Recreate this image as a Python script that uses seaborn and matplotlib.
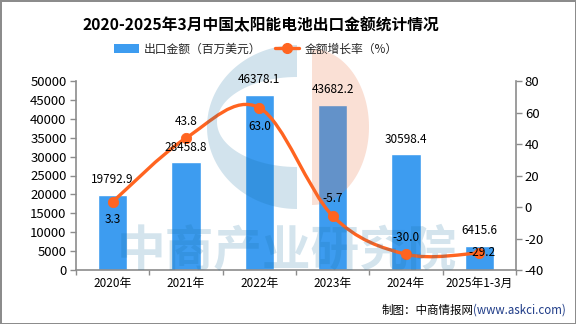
import numpy as np
import pandas as pd
import matplotlib
matplotlib.use("Agg")
import matplotlib.pyplot as plt
import seaborn as sns
from matplotlib.path import Path
from matplotlib.patches import PathPatch, Patch, Rectangle
from matplotlib.lines import Line2D
from matplotlib.transforms import Affine2D
from matplotlib.ticker import FixedLocator

# ---- data ----
years = ["2020年", "2021年", "2022年", "2023年", "2024年", "2025年1-3月"]
export_value = [19792.9, 28458.8, 46378.1, 43682.2, 30598.4, 6415.6]   # 百万美元
growth_rate = [3.3, 43.8, 63.0, -5.7, -30.0, -29.2]                    # %
left_ticks = [0, 5000, 10000, 15000, 20000, 25000, 30000, 35000, 40000, 45000, 50000]
right_ticks = [-40, -20, 0, 20, 40, 60, 80]

title = "2020-2025年3月中国太阳能电池出口金额统计情况"
bar_name = "出口金额（百万美元）"
line_name = "金额增长率（%）"

# ---- style ----
BAR = "#3d9cf0"
LINE = "#ff6420"
AXIS = "#8c8c8c"
WM_BLUE = (18 / 255, 108 / 255, 160 / 255)
WM_SALMON = (236 / 255, 114 / 255, 64 / 255)

sns.set_theme(style="white")
plt.rcParams["font.family"] = ["Noto Sans CJK SC", "DejaVu Sans"]
plt.rcParams["axes.unicode_minus"] = False

W, H = 576, 324
fig = plt.figure(figsize=(W / 100, H / 100), dpi=100, facecolor="white",
                 edgecolor="#8c8c8c", linewidth=2)
# pixel coordinates measured from the top-left corner
px = Affine2D().scale(1 / W, -1 / H).translate(0, 1) + fig.transFigure

ax = fig.add_axes([76 / W, 1 - 270 / H, 440 / W, 189 / H])
df = pd.DataFrame({"year": years, "value": export_value, "rate": growth_rate})
sns.barplot(data=df, x="year", y="value", color=BAR, saturation=1, width=0.4,
            ax=ax, zorder=2)
ax.set_xlim(-0.5, len(years) - 0.5)
ax.set_ylim(left_ticks[0], left_ticks[-1])
ax.set_yticks(left_ticks)
ax.set_xlabel("")
ax.set_ylabel("")

ax2 = ax.twinx()
ax2.set_ylim(right_ticks[0], right_ticks[-1])
ax2.set_yticks(right_ticks)

# smoothed growth-rate line (Catmull-Rom segments as cubic Bezier curves)
xs = np.arange(len(years), dtype=float)
pts = np.column_stack([xs, np.asarray(growth_rate, dtype=float)])
ext = np.vstack([pts[0], pts, pts[-1]])
verts = [pts[0]]
codes = [Path.MOVETO]
for i in range(len(pts) - 1):
    p0, p1, p2, p3 = ext[i], ext[i + 1], ext[i + 2], ext[i + 3]
    verts += [p1 + (p2 - p0) / 6, p2 - (p3 - p1) / 6, p2]
    codes += [Path.CURVE4] * 3
ax2.add_patch(PathPatch(Path(verts, codes), fill=False, edgecolor=LINE,
                        lw=2.4, capstyle="round", zorder=3))
sns.scatterplot(x=xs, y=growth_rate, ax=ax2, color=LINE, edgecolor=LINE,
                s=55, zorder=4, legend=False)

# ---- watermark (logo + name) ----
clip = Rectangle((0, 44), W, 250, transform=px, facecolor="none", edgecolor="none")
fig.add_artist(clip)
clip.set_visible(False)

t = np.linspace(-np.pi / 2, np.pi / 2, 80)
outer = np.column_stack([297 - 90 * np.cos(t), 127 + 82 * np.sin(t)])
hole = np.column_stack([297 - 80 * np.cos(t[::-1]), 122 + 45 * np.sin(t[::-1])])
g_shape = np.vstack([outer, hole, outer[:1]])
g_patch = PathPatch(Path(g_shape), transform=px, facecolor=WM_BLUE, edgecolor="none",
                    alpha=0.19, zorder=5, clip_on=True)
ax2.add_patch(g_patch)
g_patch.set_clip_path(clip)

disc = np.column_stack([312 + 57 * np.cos(t), 127 + 78 * np.sin(t)])
s_patch = PathPatch(Path(np.vstack([disc, disc[:1]])), transform=px,
                    facecolor=WM_SALMON, edgecolor="none", alpha=0.22, zorder=5)
ax2.add_patch(s_patch)
s_patch.set_clip_path(clip)

ax2.text(287, 252, "中商产业研究院", transform=px, fontsize=35, fontweight="bold",
         color=WM_BLUE, alpha=0.18, ha="center", va="center", zorder=5, clip_on=False)

# ---- value labels ----
for i, v in enumerate(export_value):
    ax2.annotate(f"{v:.1f}", (i, v), xycoords=ax.transData, xytext=(0, 11),
                 textcoords="offset points", ha="center", va="center",
                 fontsize=8.5, color="black", zorder=7)

rate_offsets = [-12.5, 12, -13.5, 12.5, 12, 0]
for i, v in enumerate(growth_rate):
    ax2.annotate(f"{v:.1f}", (i, v), xytext=(2 if rate_offsets[i] == 0 else 0, rate_offsets[i]),
                 textcoords="offset points", ha="center", va="center",
                 fontsize=8.5, color="black", zorder=7)

# ---- axes styling ----
for a in (ax, ax2):
    for s in a.spines.values():
        s.set_visible(False)
ax.spines["left"].set_visible(True)
ax.spines["bottom"].set_visible(True)
ax2.spines["right"].set_visible(True)
for s in (ax.spines["left"], ax.spines["bottom"], ax2.spines["right"]):
    s.set_color(AXIS)
    s.set_linewidth(1.2)

ax.tick_params(axis="y", direction="out", length=4.3, width=1, color=AXIS,
               labelsize=9.5, pad=2.5, labelcolor="black", left=True)
ax2.tick_params(axis="y", direction="out", length=4.3, width=1, color=AXIS,
                labelsize=9.5, pad=2, labelcolor="black", right=True)
ax.tick_params(axis="x", which="major", length=0, labelsize=8.5, pad=5,
               labelcolor="black")
ax.xaxis.set_minor_locator(FixedLocator(np.arange(-0.5, len(years), 1.0)))
ax.tick_params(axis="x", which="minor", direction="out", length=3.5, width=1,
               color=AXIS, bottom=True)
ax.grid(False)
ax2.grid(False)

# ---- title, legend, source ----
fig.text(261 / W, 1 - 25 / H, title, ha="center", va="center", fontsize=11.3,
         fontweight="bold", color="black")

handles = [
    Patch(facecolor=BAR, edgecolor="none"),
    Line2D([0], [0], color=LINE, lw=2.4, marker="o", markersize=7,
           markerfacecolor=LINE, markeredgecolor=LINE),
]
fig.legend(handles, [bar_name, line_name], loc="center",
           bbox_to_anchor=(256 / W, 1 - 49 / H), ncol=2, frameon=False,
           fontsize=8.5, handlelength=2.1, handleheight=0.7, handletextpad=0.45,
           columnspacing=1.1, borderpad=0)

url = fig.text(566 / W, 1 - 310 / H, "(www.askci.com)", ha="right", va="center",
               fontsize=8.3, color="#1f3c88")
fig.text(0, 0, "")
src = plt.annotate("制图：中商情报网", xy=(0, 0.5), xycoords=url, ha="right",
                   va="center", fontsize=8.3, color="black", annotation_clip=False)

fig.savefig("out.png", dpi=100, facecolor="white", edgecolor=fig.get_edgecolor())
